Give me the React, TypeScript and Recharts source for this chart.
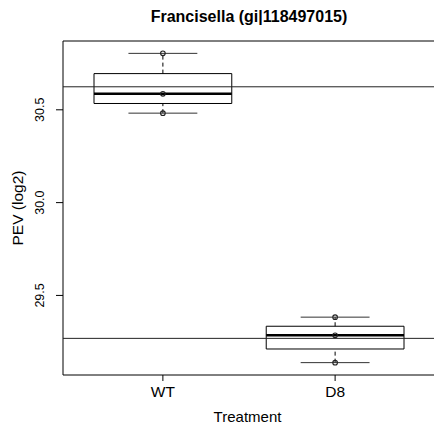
import React from "react";
import {
  ScatterChart,
  Scatter,
  XAxis,
  YAxis,
  ReferenceArea,
  ReferenceLine,
} from "recharts";

// raw observations per treatment (log2 PEV)
const treatments = ["WT", "D8"];
const wtValues = [30.482, 30.586, 30.804];
const d8Values = [29.138, 29.285, 29.383];
const yTicks = [29.5, 30.0, 30.5];

const groups = [wtValues, d8Values];

const BOX_HALF = 0.4;
const STAPLE_HALF = 0.2;
const FONT = "'Liberation Sans', Arial, Helvetica, sans-serif";

// R-style fivenum (Tukey hinges)
function fivenum(vals: number[]) {
  const s = [...vals].sort((a, b) => a - b);
  const n = s.length;
  const n4 = Math.floor((n + 3) / 2) / 2;
  const d = [1, n4, (n + 1) / 2, n + 1 - n4, n];
  return d.map((v) => 0.5 * (s[Math.floor(v) - 1] + s[Math.ceil(v) - 1]));
}

const stats = groups.map((g) => {
  const [min, q1, median, q3, max] = fivenum(g);
  const mean = g.reduce((a, b) => a + b, 0) / g.length;
  return { min, q1, median, q3, max, mean };
});

const points = groups.flatMap((g, i) => g.map((v) => ({ x: i + 1, y: v })));

const all = groups.flat();
const lo = Math.min(...all);
const hi = Math.max(...all);
const yDomain = [lo - 0.04 * (hi - lo), hi + 0.04 * (hi - lo)];
const n = treatments.length;
const xDomain = [0.5 - 0.04 * n, n + 0.5 + 0.04 * n];

const XTick = (props: any) => {
  const { x, y, payload } = props;
  return (
    <text x={x} y={y + 14} textAnchor="middle" fontSize={15.5} fontFamily={FONT} fill="#000">
      {treatments[payload.value - 1]}
    </text>
  );
};

const YTick = (props: any) => {
  const { x, y, payload } = props;
  const tx = x - 9.5;
  return (
    <text
      x={tx}
      y={y}
      transform={`rotate(-90, ${tx}, ${y})`}
      textAnchor="middle"
      fontSize={12.5}
      fontFamily={FONT}
      fill="#000"
    >
      {Number(payload.value).toFixed(1)}
    </text>
  );
};

const Dot = (props: any) => (
  <circle cx={props.cx} cy={props.cy} r={2.3} fill="none" stroke="#222" strokeWidth={1.1} />
);

export default function App() {
  return (
    <div
      style={{
        position: "absolute",
        left: 0,
        top: 0,
        width: 434,
        height: 425,
        overflow: "hidden",
        background: "#fff",
      }}
    >
      <div
        style={{
          position: "absolute",
          left: 63,
          width: 372,
          top: 8.5,
          textAlign: "center",
          fontFamily: FONT,
          fontWeight: "bold",
          fontSize: 16,
          lineHeight: "16px",
        }}
      >
        Francisella (gi|118497015)
      </div>
      <ScatterChart width={436} height={425} margin={{ top: 41, right: 1, bottom: 20, left: 0 }}>
        <XAxis
          type="number"
          dataKey="x"
          domain={xDomain}
          ticks={[1, 2]}
          interval={0}
          allowDataOverflow
          axisLine={false}
          tickSize={6}
          tickLine={{ stroke: "#000" }}
          height={30}
          tick={XTick}
          label={{
            content: (p: any) => {
              const vb = p.viewBox;
              return (
                <text
                  x={vb.x + vb.width / 2 - 1.5}
                  y={vb.y + 46.5}
                  textAnchor="middle"
                  fontSize={15}
                  fontFamily={FONT}
                  fill="#000"
                >
                  Treatment
                </text>
              );
            },
          }}
        />
        <YAxis
          type="number"
          dataKey="y"
          domain={yDomain}
          ticks={yTicks}
          allowDataOverflow
          axisLine={false}
          tickSize={7}
          tickLine={{ stroke: "#000" }}
          width={63}
          tick={YTick}
          label={{
            content: (p: any) => {
              const vb = p.viewBox;
              const lx = vb.x + 22.5;
              const ly = vb.y + vb.height / 2;
              return (
                <text
                  x={lx}
                  y={ly}
                  transform={`rotate(-90, ${lx}, ${ly})`}
                  textAnchor="middle"
                  fontSize={15.5}
                  fontFamily={FONT}
                  fill="#000"
                >
                  PEV (log2)
                </text>
              );
            },
          }}
        />

        {/* plot frame */}
        <ReferenceArea
          x1={xDomain[0]}
          x2={xDomain[1]}
          y1={yDomain[0]}
          y2={yDomain[1]}
          fill="none"
          stroke="#000"
          strokeWidth={1}
          ifOverflow="visible"
        />

        {stats.map((s, i) => {
          const c = i + 1;
          return (
            <React.Fragment key={treatments[i]}>
              <ReferenceArea
                x1={c - BOX_HALF}
                x2={c + BOX_HALF}
                y1={s.q1}
                y2={s.q3}
                fill="none"
                stroke="#000"
                strokeWidth={1}
                ifOverflow="visible"
              />
              <ReferenceLine
                segment={[{ x: c, y: s.q3 }, { x: c, y: s.max }]}
                stroke="#000"
                strokeDasharray="4 3"
                ifOverflow="visible"
              />
              <ReferenceLine
                segment={[{ x: c, y: s.min }, { x: c, y: s.q1 }]}
                stroke="#000"
                strokeDasharray="4 3"
                ifOverflow="visible"
              />
              <ReferenceLine
                segment={[{ x: c - STAPLE_HALF, y: s.max }, { x: c + STAPLE_HALF, y: s.max }]}
                stroke="#333"
                ifOverflow="visible"
              />
              <ReferenceLine
                segment={[{ x: c - STAPLE_HALF, y: s.min }, { x: c + STAPLE_HALF, y: s.min }]}
                stroke="#333"
                ifOverflow="visible"
              />
              <ReferenceLine
                segment={[{ x: c - BOX_HALF, y: s.median }, { x: c + BOX_HALF, y: s.median }]}
                stroke="#000"
                strokeWidth={2.5}
                ifOverflow="visible"
              />
              <ReferenceLine y={s.mean} stroke="#222" strokeWidth={1} ifOverflow="visible" />
            </React.Fragment>
          );
        })}

        <Scatter data={points} shape={Dot} isAnimationActive={false} />
      </ScatterChart>
    </div>
  );
}
